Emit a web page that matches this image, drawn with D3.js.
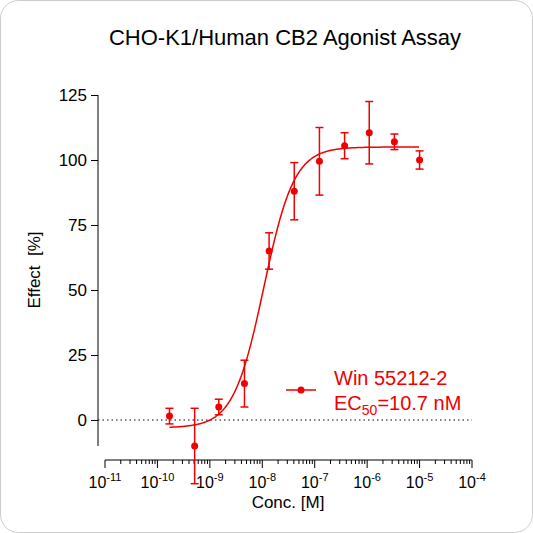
<!DOCTYPE html><html><head><script src="https://cdn.jsdelivr.net/npm/d3@7"></script>
<style>body{margin:0;background:#fff}</style></head><body><svg id="c" width="533" height="533"></svg><script>
const logConc=[-9.77,-9.29,-8.83,-8.34,-7.87,-7.39,-6.91,-6.43,-5.96,-5.48,-5.0];
const effect=[1.5,-10,5,14,65,88,99.5,105.5,110.5,107,100];
const errs=[3,14.5,3,9,7,11,13,5,12,3,3.5];
const fitBottom=-3,fitTop=105,logEC50=Math.log10(10.7e-9),hill=1.5;
const yTicks=[0,25,50,75,100,125];
const xDecades=[-11,-10,-9,-8,-7,-6,-5,-4];
const svg=d3.select("#c");
svg.append("rect").attr("x",0.5).attr("y",0.5).attr("width",532).attr("height",532).attr("rx",18).attr("fill","#fff").attr("stroke","#ccc");
const x=d3.scaleLinear().domain([-11,-4]).range([105,472]);
const y=d3.scaleLinear().domain([0,125]).range([420,95]);
const red="#f00000";
const ya=svg.append("g").attr("transform","translate(98,0)").call(d3.axisLeft(y).tickValues(yTicks).tickSize(7).tickPadding(4));
ya.select(".domain").attr("d","M0,95V446");
ya.selectAll("text").attr("font-family","Arial, Liberation Sans").attr("font-size",17).attr("fill","#000");
const xa=svg.append("g").attr("transform","translate(0,460)");
xa.append("line").attr("x1",105).attr("x2",472).attr("stroke","#000");
xDecades.forEach(d=>{xa.append("line").attr("x1",x(d)).attr("x2",x(d)).attr("y2",8).attr("stroke","#000");
 const t=xa.append("text").attr("x",x(d)).attr("y",28).attr("text-anchor","middle").attr("font-family","Arial, Liberation Sans").attr("font-size",16);
 t.append("tspan").text("10");t.append("tspan").attr("dy",-7).attr("font-size",11).text(String(d));
 if(d<-4)for(let k=2;k<10;k++){const v=d+Math.log10(k);xa.append("line").attr("x1",x(v)).attr("x2",x(v)).attr("y2",4).attr("stroke","#000");}
});
svg.append("line").attr("x1",98).attr("x2",472).attr("y1",y(0)).attr("y2",y(0)).attr("stroke","#000").attr("stroke-dasharray","1.5,3");
const f=l=>fitBottom+(fitTop-fitBottom)/(1+Math.pow(10,(logEC50-l)*hill));
svg.append("path").attr("d",d3.line().x(d=>x(d)).y(d=>y(f(d)))(d3.range(-9.77,-4.999,0.02))).attr("fill","none").attr("stroke",red).attr("stroke-width",1.5);
logConc.forEach((l,i)=>{const g=svg.append("g").attr("stroke",red).attr("stroke-width",1.5);
 g.append("line").attr("x1",x(l)).attr("x2",x(l)).attr("y1",y(effect[i]-errs[i])).attr("y2",y(effect[i]+errs[i]));
 [effect[i]-errs[i],effect[i]+errs[i]].forEach(v=>g.append("line").attr("x1",x(l)-4).attr("x2",x(l)+4).attr("y1",y(v)).attr("y2",y(v)));
 svg.append("circle").attr("cx",x(l)).attr("cy",y(effect[i])).attr("r",3.5).attr("fill",red);});
svg.append("line").attr("x1",286).attr("x2",316).attr("y1",390).attr("y2",390).attr("stroke",red).attr("stroke-width",1.5);
svg.append("circle").attr("cx",301).attr("cy",390).attr("r",3.5).attr("fill",red);
const ff="Arial, Liberation Sans";
svg.append("text").attr("x",334).attr("y",385).attr("fill",red).attr("font-family",ff).attr("font-size",20).text("Win 55212-2");
const e=svg.append("text").attr("x",334).attr("y",410).attr("fill",red).attr("font-family",ff).attr("font-size",20);
e.append("tspan").text("EC");e.append("tspan").attr("dy",5).attr("font-size",14).text("50");e.append("tspan").attr("dy",-5).text("=10.7 nM");
svg.append("text").attr("x",285).attr("y",45).attr("text-anchor","middle").attr("font-family",ff).attr("font-size",22).text("CHO-K1/Human CB2 Agonist Assay");
svg.append("text").attr("x",288).attr("y",508).attr("text-anchor","middle").attr("font-family",ff).attr("font-size",17).text("Conc. [M]");
svg.append("text").attr("transform","translate(40,270) rotate(-90)").attr("text-anchor","middle").attr("font-family",ff).attr("font-size",17).attr("xml:space","preserve").text("Effect  [%]");
</script></body></html>
